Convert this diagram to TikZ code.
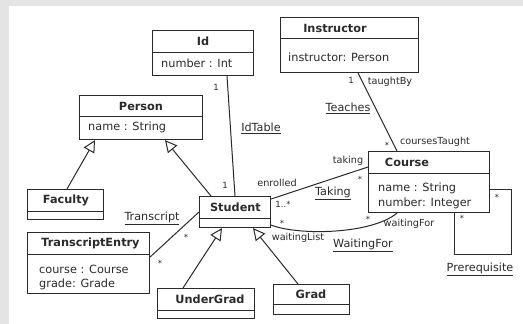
\documentclass[tikz,border=0pt]{standalone}
\usepackage{fontspec}
\setmainfont{DejaVu Sans}
\usetikzlibrary{arrows.meta}
\definecolor{ink}{HTML}{2A2A2A}
\definecolor{bgrey}{HTML}{E4E4E4}
\tikzset{
  cls/.style={draw=ink, line width=1.1pt, anchor=north west, inner sep=0pt, rectangle},
  hdr/.style={font=\fontsize{11.3}{12}\selectfont\bfseries, text=ink, inner sep=0pt},
  attr/.style={font=\fontsize{11.3}{12}\selectfont, text=ink, inner sep=0pt, anchor=west},
  role/.style={font=\fontsize{9.7}{10}\selectfont, text=ink, inner sep=0pt},
  assoc/.style={font=\fontsize{11.2}{12}\selectfont, text=ink, inner sep=0pt},
  mult/.style={font=\fontsize{8.5}{9}\selectfont, text=ink, inner sep=0pt},
  conn/.style={draw=ink, line width=1pt},
  gen/.style={conn, -{Triangle[open, length=12pt, width=12pt, fill=white]}},
  div/.style={draw=ink, line width=1pt}
}
\begin{document}
\begin{tikzpicture}[x=1pt,y=-1pt]
\useasboundingbox (0,0) rectangle (523,324);
\fill[bgrey] (0,0) rectangle (523,324);
\fill[white] (8.5,6) rectangle (523,324);

% class boxes
\node[cls, minimum width=101pt, minimum height=45pt] (id) at (152,30) {};
\node[cls, minimum width=138pt, minimum height=55pt] (instr) at (280,17) {};
\node[cls, minimum width=123pt, minimum height=44pt] (person) at (79,95) {};
\node[cls, minimum width=76pt, minimum height=30pt] (faculty) at (27,189) {};
\node[cls, minimum width=71pt, minimum height=31pt] (student) at (199,196) {};
\node[cls, minimum width=121pt, minimum height=61pt] (course) at (368,151) {};
\node[cls, minimum width=122pt, minimum height=61pt] (te) at (27,232) {};
\node[cls, minimum width=97pt, minimum height=30pt] (ug) at (157,288) {};
\node[cls, minimum width=76pt, minimum height=30pt] (grad) at (273,284) {};

% dividers
\draw[div] (152,52) -- (253,52);
\draw[div] (280,38) -- (418,38);
\draw[div] (79,116) -- (202,116);
\draw[div] (27,211) -- (103,211);
\draw[div] (199,218) -- (270,218);
\draw[div] (368,173) -- (489,173);
\draw[div] (27,254) -- (149,254);
\draw[div] (157,310) -- (254,310);
\draw[div] (273,304) -- (349,304);

% headers
\node[hdr] (idh) at (203,41) {Id};
\node[hdr] (instrh) at (335,28) {Instructor};
\node[hdr] (personh) at (141,106) {Person};
\node[hdr] (facultyh) at (66,200) {Faculty};
\node[hdr] (studenth) at (235.5,207) {Student};
\node[hdr] (courseh) at (407,162) {Course};
\node[hdr] (teh) at (90.5,243) {TranscriptEntry};
\node[hdr] (ugh) at (210,299) {UnderGrad};
\node[hdr] (gradh) at (311,294) {Grad};

% attributes
\node[attr] (ida) at (161,63) {number : Int};
\node[attr] (instra) at (288,57) {instructor: Person};
\node[attr] (persona) at (88,127) {name : String};
\node[attr] (coursea1) at (378,188) {name : String};
\node[attr] (coursea2) at (378,203) {number: Integer};
\node[attr] (tea1) at (39,269) {course : Course};
\node[attr] (tea2) at (39,284) {grade: Grade};

% generalizations
\draw[gen] ([xshift=40pt]faculty.north west) -- ([xshift=16pt]person.south west);
\draw[gen] ([xshift=12pt]student.north west) -- ([xshift=86pt]person.south west);
\draw[gen] ([xshift=26pt]ug.north west) -- ([xshift=23pt]student.south west);
\draw[gen] ([xshift=25pt]grad.north west) -- ([xshift=54pt]student.south west);

% associations
\draw[conn] ([xshift=75pt]id.south west) -- ([xshift=36pt]student.north west);
\draw[conn] ([xshift=78pt]instr.south west) -- ([xshift=29pt]course.north west);
\draw[conn] ([yshift=-3pt]student.north east) -- ([yshift=-16pt]course.north west);
\draw[conn] ([yshift=3pt]student.south east) .. controls (300,236) and (372,234) .. ([xshift=29pt]course.south west);
\draw[conn] ([yshift=-25pt]te.north east) -- ([yshift=-16pt]student.north west);
\draw[conn] ([xshift=86pt]course.south west) -- (454,254) -- (511,254) -- (511,189) -- ([yshift=-38pt]course.north east);

% labels
\node[mult] (m1) at (216,87) {1};
\node[mult] (m2) at (225,185) {1};
\node[assoc] (idt) at (261,128) {\underline{IdTable}};
\node[mult] (m3) at (351,80) {1};
\node[role] (tb) at (390,82) {taughtBy};
\node[assoc] (teach) at (348,108) {\underline{Teaches}};
\node[mult] (m4) at (387,145) {*};
\node[role] (ct) at (435,142) {coursesTaught};
\node[role] (tk) at (348,161) {taking};
\node[mult] (m5) at (360,179) {*};
\node[role] (en) at (277,183) {enrolled};
\node[mult] (m6) at (283,204) {1..*};
\node[assoc] (tak) at (333,193) {\underline{Taking}};
\node[mult] (m7) at (282,223) {*};
\node[mult] (m8) at (368,219) {*};
\node[role] (wf) at (409,224) {waitingFor};
\node[role] (wl) at (298,238) {waitingList};
\node[assoc] (wfa) at (363,245) {\underline{WaitingFor}};
\node[assoc] (tr) at (152,218) {\underline{Transcript}};
\node[mult] (m9) at (186,237) {*};
\node[mult] (m10) at (160,263) {*};
\node[assoc] (pre) at (480,269) {\underline{Prerequisite}};
\node[mult] (m11) at (497,197) {*};
\node[mult] (m12) at (462,218) {*};
\end{tikzpicture}
\end{document}
